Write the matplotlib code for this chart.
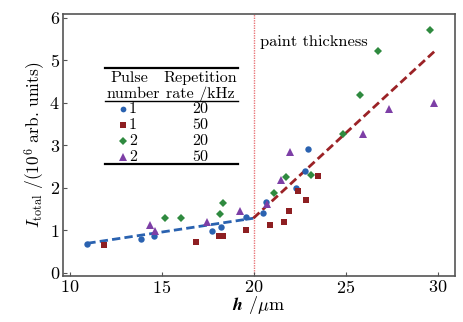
import numpy as np
import matplotlib
matplotlib.use("Agg")
import matplotlib.pyplot as plt

plt.rcParams['font.family'] = ['cmr10', 'DejaVu Serif']
plt.rcParams['mathtext.fontset'] = 'cm'
plt.rcParams['axes.formatter.use_mathtext'] = True

# data: pulse number 1 / 2, repetition rate 20 / 50 kHz
h_1_20 = [10.94, 13.84, 14.58, 17.73, 18.21, 19.55, 20.47, 20.64, 22.27, 22.77, 22.92]
i_1_20 = [0.67, 0.79, 0.85, 0.97, 1.07, 1.30, 1.41, 1.66, 1.99, 2.39, 2.90]

h_1_50 = [11.85, 16.85, 18.12, 18.30, 19.58, 20.84, 21.65, 21.90, 22.39, 22.83, 23.50]
i_1_50 = [0.65, 0.71, 0.85, 0.85, 1.01, 1.11, 1.19, 1.46, 1.93, 1.71, 2.28]

h_2_20 = [15.18, 16.01, 18.17, 18.32, 21.10, 21.72, 23.10, 24.82, 25.74, 26.74, 29.57]
i_2_20 = [1.28, 1.28, 1.39, 1.65, 1.88, 2.25, 2.31, 3.26, 4.19, 5.21, 5.71]

h_2_50 = [14.33, 14.60, 17.45, 19.22, 20.71, 21.47, 21.94, 25.91, 27.35, 29.78]
i_2_50 = [1.12, 0.98, 1.19, 1.45, 1.62, 2.18, 2.83, 3.26, 3.85, 4.00]

# linear fits below / above paint thickness
fit_low_h = [10.94, 19.96]
fit_low_i = [0.69, 1.28]
fit_high_h = [19.96, 29.93]
fit_high_i = [1.28, 5.26]

paint_h = 20

series = [
    (h_1_20, i_1_20, 'o', '#2a62b0', 4.6, '1', '20'),
    (h_1_50, i_1_50, 's', '#8e1f22', 4.4, '1', '50'),
    (h_2_20, i_2_20, 'D', '#2f8a3f', 4.0, '2', '20'),
    (h_2_50, i_2_50, '^', '#7d3fa6', 6.0, '2', '50'),
]

fig = plt.figure(figsize=(4.63, 3.22), dpi=100)
ax = fig.add_axes([0.1354, 0.1429, 0.8473, 0.8136])

for h, i, m, c, ms, _, _ in series:
    ax.plot(h, i, linestyle='none', marker=m, color=c, markersize=ms,
            markeredgewidth=0, zorder=3)

ax.plot(fit_low_h, fit_low_i, '--', color='#2a62b0', lw=2, dashes=(3, 1.5), zorder=2)
ax.plot(fit_high_h, fit_high_i, '--', color='#9b2226', lw=2, dashes=(3, 1.5), zorder=2)
ax.axvline(paint_h, color='#e8777a', lw=1, linestyle=(0, (1, 0.8)), zorder=1)
ax.text(20.3, 5.43, 'paint thickness', fontsize=11.8, va='center', ha='left')

# table-like legend
fs = 11.6
x0, x1 = 11.9, 19.11
ax.plot([x0, x1], [4.81, 4.81], color='k', lw=1.6)
ax.plot([x0, x1], [4.04, 4.04], color='k', lw=1.0)
ax.plot([x0, x1], [2.55, 2.55], color='k', lw=1.6)
ax.text(13.2, 4.59, 'Pulse', fontsize=fs, ha='center', va='center')
ax.text(13.42, 4.21, 'number', fontsize=fs, ha='center', va='center')
ax.text(17.09, 4.59, 'Repetition', fontsize=fs, ha='center', va='center')
ax.text(17.09, 4.21, 'rate /kHz', fontsize=fs, ha='center', va='center')
row_y = [3.85, 3.47, 3.09, 2.73]
for (h, i, m, c, ms, pn, rr), ry in zip(series, row_y):
    ax.plot([12.86], [ry], linestyle='none', marker=m, color=c,
            markersize=ms * 0.9, markeredgewidth=0)
    ax.text(13.2, ry, pn, fontsize=fs, ha='left', va='center')
    ax.text(17.07, ry, rr, fontsize=fs, ha='center', va='center')

ax.set_xlim(9.6, 30.92)
ax.set_ylim(-0.08, 6.09)
ax.set_xticks([10, 15, 20, 25, 30])
ax.set_yticks([0, 1, 2, 3, 4, 5, 6])
ax.tick_params(direction='in', length=3, labelsize=13, color='#555555',
               top=False, right=False, pad=2)
for s in ax.spines.values():
    s.set_color('#555555')
    s.set_linewidth(1.2)

ax.set_xlabel(r'$\boldsymbol{h}$ /$\mathrm{\mu}$m', fontsize=13, labelpad=-1)
ax.set_ylabel(r'$I_{\rm total}$ /(10$^6$ arb. units)', fontsize=12.5, labelpad=2)

fig.savefig('out.png', dpi=100)
